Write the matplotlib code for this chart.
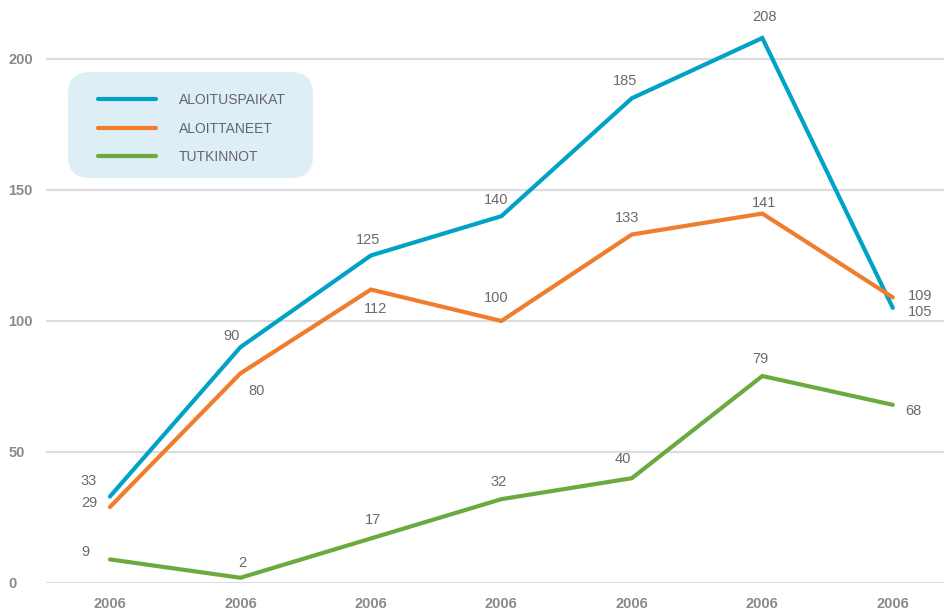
import matplotlib
matplotlib.use('Agg')
import matplotlib.pyplot as plt
from matplotlib.patches import FancyBboxPatch

years = ['2006', '2006', '2006', '2006', '2006', '2006', '2006']
aloituspaikat = [33, 90, 125, 140, 185, 208, 105]
aloittaneet = [29, 80, 112, 100, 133, 141, 109]
tutkinnot = [9, 2, 17, 32, 40, 79, 68]
series_names = ['ALOITUSPAIKAT', 'ALOITTANEET', 'TUTKINNOT']
yticks = [0, 50, 100, 150, 200]

colors = ['#00a3c6', '#f07d2e', '#6aaa3f']

# label offsets in pixels (dx, dy) for each point
offsets = [
    [(-21, 16), (-9, 11), (-3, 15), (-5, 16), (-7, 17), (2, 21), (27, -4)],
    [(-21, 4), (16, -18), (5, -19), (-5, 23), (-5, 17), (2, 11), (27, 1)],
    [(-24, 7), (2, 15), (2, 18), (-3, 17), (-9, 19), (-2, 17), (21, -6)],
]

plt.rcParams['font.family'] = ['Liberation Sans', 'DejaVu Sans']

fig = plt.figure(figsize=(9.45, 6.13), dpi=100)
ax = fig.add_axes([46 / 945, 30 / 613, 1 - 46 / 945, 583 / 613])

x = list(range(len(years)))
for vals, col, offs in zip([aloituspaikat, aloittaneet, tutkinnot], colors, offsets):
    ax.plot(x, vals, color=col, lw=3, solid_capstyle='round', solid_joinstyle='miter', zorder=3)
    for xi, v, (dx, dy) in zip(x, vals, offs):
        ax.annotate(str(v), (xi, v), xytext=(dx, dy), textcoords='offset pixels',
                    ha='center', va='center', fontsize=10.5, color='#6a6a6a')

ax.set_xlim(-0.49, 6.40)
ax.set_ylim(0, 222.5)
ax.set_yticks(yticks)
ax.set_xticks(x)
ax.set_xticklabels(years)
for s in ax.spines.values():
    s.set_visible(False)
ax.tick_params(length=0)
ax.tick_params(axis='x', pad=10, labelsize=10.5, labelcolor='#8a8a8e')
ax.tick_params(axis='y', pad=27, labelsize=10.5, labelcolor='#8a8a8e')
for lab in ax.get_xticklabels() + ax.get_yticklabels():
    lab.set_fontweight('bold')
for lab in ax.get_yticklabels():
    lab.set_horizontalalignment('left')
ax.grid(axis='y', color='#dcdce0', lw=1.5)
ax.set_axisbelow(True)

# legend box
box = FancyBboxPatch((0.68, 6.13 - 1.78), 2.45, 1.06,
                     boxstyle='round,pad=0,rounding_size=0.22',
                     transform=fig.dpi_scale_trans, facecolor='#ddeef6',
                     edgecolor='none', zorder=1)
fig.patches.append(box)

handles = [plt.Line2D([], [], color=c, lw=3, solid_capstyle='round') for c in colors]
leg = fig.legend(handles, series_names, loc='upper left',
                 bbox_to_anchor=(0.98, 6.13 - 0.93), bbox_transform=fig.dpi_scale_trans,
                 frameon=False, fontsize=10, handlelength=4.2, handletextpad=1.6,
                 labelspacing=1.05, borderpad=0, borderaxespad=0)
for t in leg.get_texts():
    t.set_color('#666666')

fig.savefig('out.png', dpi=100)
